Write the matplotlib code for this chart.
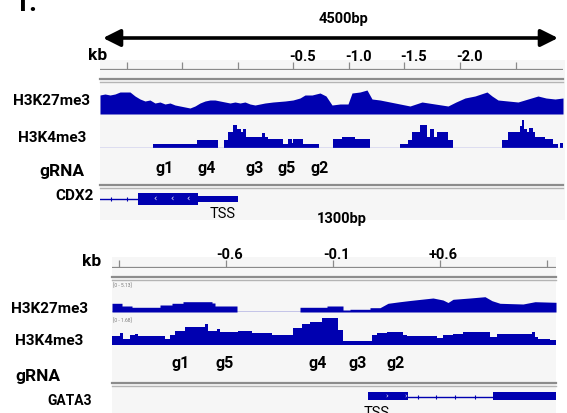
import numpy as np
import matplotlib.pyplot as plt

plt.rcParams['font.family'] = ['Roboto', 'DejaVu Sans']

W, H = 567, 413
BLUE = '#0000b0'
LIGHT = '#7b7bdc'
PANEL = '#f6f6f6'

# ---------- top locus (CDX2), x = bp from left edge of window ----------
top_len = 4167
top_ticks = [240, 740, 1240, 1740, 2240, 2740, 3240, 3740]
top_tick_labels = ['', '', '', '-0.5', '-1.0', '-1.5', '-2.0', '']

top_k27_x = [0, 45, 90, 135, 180, 225, 270, 315, 360, 405, 450, 495, 540, 585, 630,
             675, 720, 765, 810, 855, 900, 945, 990, 1035, 1080, 1125, 1170, 1215,
             1260, 1305, 1350, 1395, 1485, 1557, 1665, 1737, 1800, 1845, 1908, 1980,
             2034, 2088, 2160, 2232, 2268, 2340, 2403, 2448, 2520, 2655, 2790, 2898,
             3015, 3132, 3204, 3285, 3375, 3483, 3528, 3582, 3672, 3762, 3852, 3942,
             4014, 4095, 4167]
top_k27_y = [19, 20, 19, 20, 22, 22, 22, 18, 15, 13, 14, 11, 12, 10, 11, 9, 8, 7, 6, 8,
             11, 13, 14, 14, 13, 12, 11, 12, 11, 12, 10, 9, 11, 12, 13, 14, 16, 19, 19,
             21, 18, 9, 10, 10, 21, 22, 24, 15, 14, 11, 8, 12, 10, 8, 12, 16, 18, 22,
             18, 14, 13, 12, 15, 18, 16, 15, 16]

top_k4_edges = [0, 477, 873, 1062, 1116, 1152, 1197, 1233, 1269, 1287, 1314, 1458, 1485,
                1512, 1647, 1692, 1728, 1737, 1827, 1971, 2097, 2178, 2295, 2430, 2700,
                2772, 2808, 2880, 2943, 2970, 3006, 3033, 3132, 3177, 3618, 3672, 3780,
                3798, 3816, 3843, 3861, 3897, 3915, 4005, 4077, 4122, 4140, 4167]
top_k4_y = [0, 4, 8, 0, 8.5, 16, 23.5, 19.5, 16, 19.5, 11.5, 15, 11, 9.5, 4.5, 9, 5, 9,
            4.5, 0, 9, 11.5, 9, 0, 4, 8, 16, 23.5, 11, 19.5, 11, 16, 8, 0, 8, 16, 22,
            28, 19.5, 16, 20, 16, 11, 9.5, 4, 0, 5]

top_guides = ['g1', 'g4', 'g3', 'g5', 'g2']
top_guide_x = [585, 963, 1395, 1683, 1980]

cdx2_intron = [0, 342]
cdx2_marks = [99, 243]
cdx2_cds = [(342, 540)]
cdx2_utr = [(882, 360)]
cdx2_chevrons = [495, 648, 792]

# ---------- bottom locus (GATA3) ----------
bot_len = 1332
bot_ticks = [21, 342, 663, 984, 1305]
bot_tick_labels = ['', '-0.6', '-0.1', '+0.6', '']

bot_k27_x = [0, 30, 30, 60, 60, 144, 144, 180, 180, 213, 213, 300, 300, 309, 309, 375,
             375, 564, 564, 645, 645, 693, 693, 714, 714, 774, 774, 804, 828, 864, 894,
             963, 993, 1008, 1023, 1074, 1119, 1140, 1164, 1233, 1269, 1332]
bot_k27_y = [8.7, 8.7, 6, 6, 4.7, 4.7, 7, 7, 8.7, 8.7, 10.3, 10.3, 9, 9, 6, 6, 0, 0,
             4.7, 4.7, 6, 6, 2, 2, 2.7, 2.7, 4.3, 4.3, 8.7, 10.3, 11.5, 14, 12, 9.5,
             12.7, 14, 15.3, 11.3, 8.7, 8, 10.3, 9.7]

bot_k4_edges = [0, 24, 33, 54, 69, 78, 159, 174, 189, 219, 279, 288, 315, 324, 378, 420,
                480, 543, 570, 594, 630, 678, 693, 780, 795, 825, 873, 885, 975, 993,
                1023, 1053, 1134, 1155, 1185, 1260, 1269, 1278, 1314, 1332]
bot_k4_y = [9, 11.7, 5.7, 10, 11, 9.3, 5.7, 10, 14, 18.3, 21, 14, 16, 12.7, 14, 12, 10,
            16.7, 21, 23.3, 26.7, 15, 4.5, 10, 12.3, 13.3, 10, 9, 6.7, 10, 11.5, 12.7,
            8.3, 10.7, 11, 13.3, 8.3, 6, 5]

bot_guides = ['g1', 'g5', 'g4', 'g3', 'g2']
bot_guide_x = [207, 339, 618, 738, 852]

gata3_intron = [888, 1143]
gata3_marks = [918, 972, 1029, 1089]
gata3_cds = [(768, 120), (1143, 189)]
gata3_chevrons = [825, 882]


fig = plt.figure(figsize=(W / 100, H / 100), dpi=100)
bg = fig.add_axes([0, 0, 1, 1])
bg.set_xlim(0, W)
bg.set_ylim(H, 0)
bg.set_axis_off()


def px_axes(x0, y0, x1, y1, xmax, ylim):
    ax = fig.add_axes([x0 / W, 1 - y1 / H, (x1 - x0) / W, (y1 - y0) / H])
    ax.set_xlim(0, xmax)
    ax.set_ylim(*ylim)
    ax.set_axis_off()
    return ax


def label(x, y, s, size, weight='bold', ha='center', color='black'):
    bg.text(x, y, s, fontsize=size, fontweight=weight, ha=ha, va='baseline', color=color)


# panels
bg.add_patch(plt.Rectangle((100, 60), 465, 160, color=PANEL, lw=0))
bg.add_patch(plt.Rectangle((112, 257), 444, 160, color=PANEL, lw=0))

for y0, x0, x1 in [(79, 100, 563), (184.5, 100, 563), (277, 112, 556), (383, 112, 556)]:
    bg.plot([x0, x1], [y0, y0], color='#8c8c8c', lw=1.6)
    bg.plot([x0, x1], [y0 + 3, y0 + 3], color='#b4b4b4', lw=1.0)

# span arrows
for xa, xb, ya in [(103, 558, 38), (93, 568, 237)]:
    bg.annotate('', xy=(xb, ya), xytext=(xa, ya),
                arrowprops=dict(arrowstyle='<|-|>', lw=2.6, color='black',
                                mutation_scale=26, shrinkA=0, shrinkB=0))

label(26, 11, '1.', 20)
label(343, 23.5, '4500bp', 10.5)
label(342, 223, '1300bp', 10.5)
label(98, 60, 'kb', 12.5)
label(92, 266, 'kb', 12.5)

label(52, 105, 'H3K27me3', 11)
label(52, 142, 'H3K4me3', 11)
label(62, 176, 'gRNA', 12.5)
label(75, 200, 'CDX2', 11)
label(223, 218, 'TSS', 10.5, weight='normal')

label(50, 313, 'H3K27me3', 11)
label(49, 345, 'H3K4me3', 11)
label(38, 381.5, 'gRNA', 12.5)
label(70, 405, 'GATA3', 10)
label(377, 417, 'TSS', 10.5, weight='normal')
label(113, 287, '[0 - 5.13]', 3.5, weight='normal', ha='left', color='#777777')
label(113, 322, '[0 - 1.68]', 3.5, weight='normal', ha='left', color='#777777')

# rulers
for (x0, x1, y1, xmax, ticks, labs, dx) in [
        (100, 563, 70, top_len, top_ticks, top_tick_labels, 9.5),
        (112, 556, 268, bot_len, bot_ticks, bot_tick_labels, 3.5)]:
    ax = px_axes(x0, y1 - 24, x1, y1, xmax, (0, 24))
    ax.plot([0, xmax], [1, 1], color='#8a8a8a', lw=0.9)
    ax.vlines(ticks, 1, 8, color='#8a8a8a', lw=0.9)
    for t, s in zip(ticks, labs):
        ax.annotate(s, (t, 9), xytext=(dx, 0), textcoords='offset pixels',
                    ha='center', va='baseline', fontsize=10.5, fontweight='bold',
                    annotation_clip=False)

# top tracks
ax = px_axes(100, 84, 563, 114, top_len, (0, 30))
ax.fill_between(top_k27_x, 0, top_k27_y, color=BLUE, lw=0)

ax = px_axes(100, 118, 563, 148, top_len, (0, 30))
ax.plot([0, top_len], [0.4, 0.4], color=LIGHT, lw=1)
ax.stairs(top_k4_y, top_k4_edges, fill=True, color=BLUE, lw=0)

ax = px_axes(100, 155, 563, 180, top_len, (0, 25))
for g, gx in zip(top_guides, top_guide_x):
    ax.text(gx, 7, g, ha='center', va='baseline', fontsize=11.5, fontweight='bold')

ax = px_axes(100, 190, 563, 208, top_len, (-9, 9))
ax.plot(cdx2_intron, [0, 0], color=BLUE, lw=1)
ax.vlines(cdx2_marks, -2, 2, color=BLUE, lw=0.8)
ax.broken_barh(cdx2_cds, (-5.8, 11.6), color=BLUE, lw=0)
ax.broken_barh(cdx2_utr, (-3.4, 6.8), color=BLUE, lw=0)
for c in cdx2_chevrons:
    ax.text(c, 0, '‹', color='white', fontsize=6, ha='center', va='center',
            family='DejaVu Sans')

# bottom tracks
ax = px_axes(112, 283, 556, 312, bot_len, (0, 29))
ax.plot([0, bot_len], [0.5, 0.5], color=BLUE, lw=1)
ax.fill_between(bot_k27_x, 0, bot_k27_y, color=BLUE, lw=0)

ax = px_axes(112, 316, 556, 345, bot_len, (0, 29))
ax.stairs(bot_k4_y, bot_k4_edges, fill=True, color=BLUE, lw=0)

ax = px_axes(112, 350, 556, 375, bot_len, (0, 25))
for g, gx in zip(bot_guides, bot_guide_x):
    ax.text(gx, 7.3, g, ha='center', va='baseline', fontsize=11.5, fontweight='bold')

ax = px_axes(112, 387, 556, 405, bot_len, (-9, 9))
ax.plot(gata3_intron, [-0.8, -0.8], color=BLUE, lw=1)
ax.vlines(gata3_marks, -2.8, 1.2, color=BLUE, lw=0.8)
ax.broken_barh(gata3_cds, (-3.6, 7.2), color=BLUE, lw=0)
for c in gata3_chevrons:
    ax.text(c, 0, '›', color='white', fontsize=5, ha='center', va='center',
            family='DejaVu Sans')

fig.savefig('out.png', dpi=100)
